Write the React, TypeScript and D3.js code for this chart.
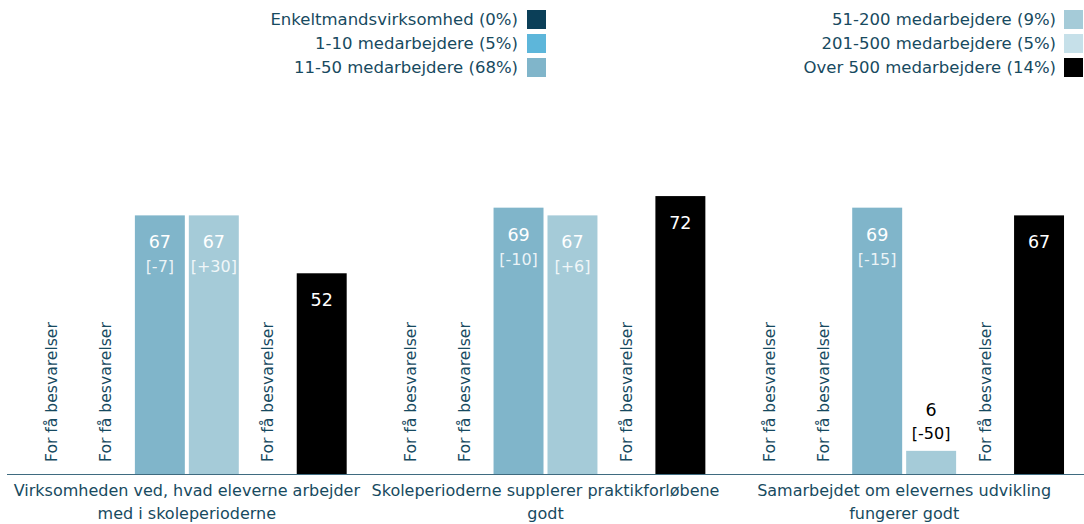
import React from 'react'
import * as d3 from 'd3'

// categories (x groups), two lines each
const categoryLines = [
  ['Virksomheden ved, hvad eleverne arbejder', 'med i skoleperioderne'],
  ['Skoleperioderne supplerer praktikforløbene', 'godt'],
  ['Samarbejdet om elevernes udvikling', 'fungerer godt'],
]

const seriesNames = [
  'Enkeltmandsvirksomhed (0%)',
  '1-10 medarbejdere (5%)',
  '11-50 medarbejdere (68%)',
  '51-200 medarbejdere (9%)',
  '201-500 medarbejdere (5%)',
  'Over 500 medarbejdere (14%)',
]

const seriesColors = ['#0b3f58', '#5db6da', '#80b5ca', '#a5cbd8', '#c6e0e9', '#000000']

// null = "For få besvarelser"
const enkeltmand: (number | null)[] = [null, null, null]
const small1to10: (number | null)[] = [null, null, null]
const mid11to50: (number | null)[] = [67, 69, 69]
const mid51to200: (number | null)[] = [67, 67, 6]
const large201to500: (number | null)[] = [null, null, null]
const over500: (number | null)[] = [52, 72, 67]

const diff11to50 = ['[-7]', '[-10]', '[-15]']
const diff51to200 = ['[+30]', '[+6]', '[-50]']

const seriesValues = [enkeltmand, small1to10, mid11to50, mid51to200, large201to500, over500]
const seriesDiffs: (string[] | null)[] = [null, null, diff11to50, diff51to200, null, null]

const tooFew = 'For få besvarelser'

const FONT = "'DejaVu Sans', Tahoma, sans-serif"
const TEXT = '#174a60'

export default function App() {
  const width = 1084
  const height = 524
  const baseY = 474

  const groups = categoryLines.map((_, i) => String(i))
  const x0 = d3.scaleBand()
    .domain(groups)
    .range([7.5, 1083.5])
    .paddingInner(0.1086)
    .paddingOuter(0.0543)

  const x1 = d3.scaleBand()
    .domain(seriesNames)
    .range([0, x0.bandwidth()])
    .paddingInner(0.074)

  const y = d3.scaleLinear().domain([0, 100]).range([baseY, 88])

  const legendLeft = seriesNames.slice(0, 3)
  const legendRight = seriesNames.slice(3)

  const legendCol = (names: string[], offset: number, textEnd: number, swatchX: number) =>
    names.map((name, i) => (
      <g key={name}>
        <text x={textEnd} y={25 + i * 24} textAnchor="end" fill={TEXT} fontSize={16.5}>{name}</text>
        <rect x={swatchX} y={10 + i * 24} width={19} height={19} fill={seriesColors[offset + i]} />
      </g>
    ))

  return (
    <svg width={width} height={height} style={{ position: 'absolute', left: 0, top: 0, fontFamily: FONT }}>
      <rect width={width} height={height} fill="#fff" />
      {legendCol(legendLeft, 0, 518, 527)}
      {legendCol(legendRight, 3, 1056, 1064)}

      {groups.map((g, gi) => (
        <g key={g} transform={`translate(${x0(g)},0)`}>
          {seriesNames.map((s, si) => {
            const v = seriesValues[si][gi]
            const bx = x1(s) as number
            const bw = x1.bandwidth()
            const cx = bx + bw / 2
            if (v === null) {
              return (
                <text key={s} transform={`translate(${cx + 5.5},${baseY - 12}) rotate(-90)`}
                  fill={TEXT} fontSize={15.6}>{tooFew}</text>
              )
            }
            const top = y(v)
            const diff = seriesDiffs[si] ? seriesDiffs[si]![gi] : null
            const inside = baseY - top > 70
            return (
              <g key={s}>
                <rect x={bx} y={top} width={bw} height={baseY - top} fill={seriesColors[si]} />
                {inside ? (
                  <>
                    <text x={cx} y={top + 33} textAnchor="middle" fill="#fff" fontSize={17.5}>{v}</text>
                    {diff && <text x={cx} y={top + 57} textAnchor="middle" fill="#fff" fillOpacity={0.85} fontSize={16}>{diff}</text>}
                  </>
                ) : (
                  <>
                    <text x={cx} y={top - (diff ? 35 : 10)} textAnchor="middle" fill="#000" fontSize={17.5}>{v}</text>
                    {diff && <text x={cx} y={top - 12} textAnchor="middle" fill="#000" fontSize={16}>{diff}</text>}
                  </>
                )}
              </g>
            )
          })}
          {categoryLines[gi].map((line, li) => (
            <text key={li} x={x0.bandwidth() / 2} y={496 + li * 23} textAnchor="middle" fill={TEXT} fontSize={16}>{line}</text>
          ))}
        </g>
      ))}

      <line x1={7} x2={1084} y1={baseY + 0.5} y2={baseY + 0.5} stroke="#3f6b80" strokeWidth={1} />
    </svg>
  )
}
